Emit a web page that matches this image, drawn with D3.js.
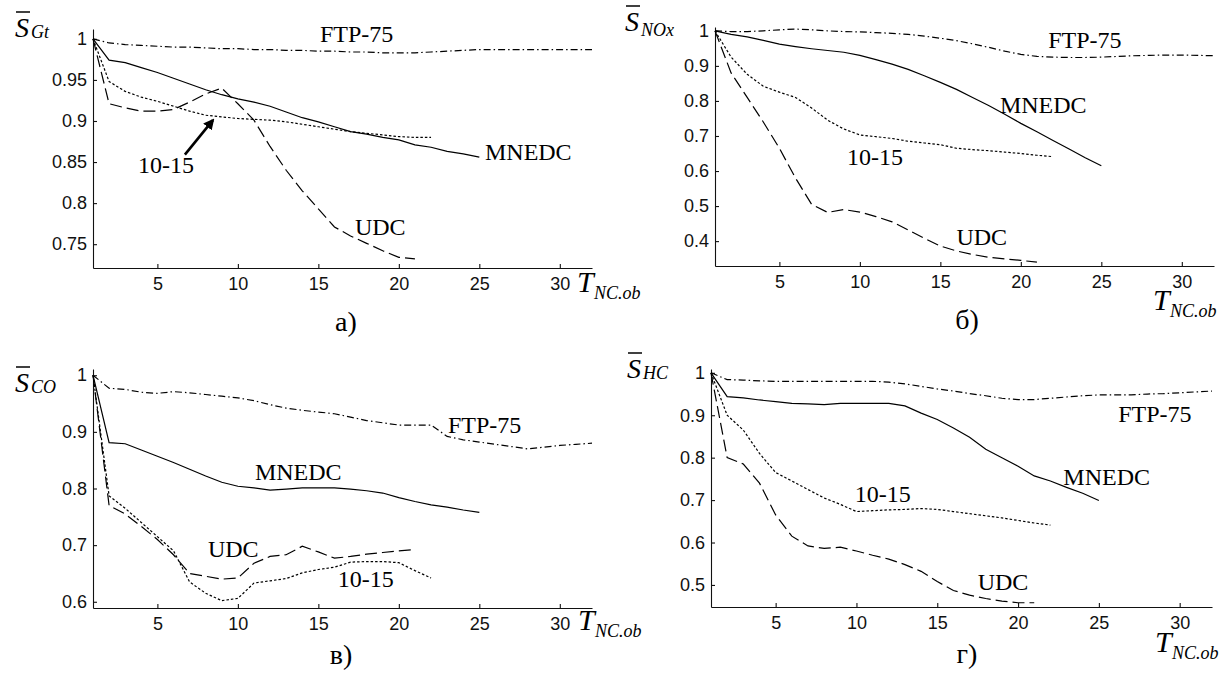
<!DOCTYPE html>
<html>
<head>
<meta charset="utf-8">
<script src="https://cdn.jsdelivr.net/npm/d3@7"></script>
<style>
  body { margin: 0; background: #fff; }
  .serif { font-family: "Liberation Serif", "DejaVu Serif", "Times New Roman", serif; }
  .sans { font-family: "Liberation Sans", Arial, sans-serif; }
</style>
</head>
<body>
<script>
// x axis ticks (number of cycles)
const xTicks = [5, 10, 15, 20, 25, 30];

// a) S_Gt
const ftpGt = [1, 0.995, 0.993, 0.992, 0.991, 0.990, 0.990, 0.989, 0.988, 0.988, 0.987, 0.987, 0.986, 0.986, 0.985, 0.985,
  0.984, 0.984, 0.983, 0.983, 0.983, 0.984, 0.985, 0.986, 0.987, 0.987, 0.987, 0.987, 0.987, 0.987, 0.987, 0.987];
const mnedcGt = [1, 0.974, 0.971, 0.965, 0.959, 0.952, 0.945, 0.938, 0.932, 0.927, 0.923, 0.918, 0.911, 0.904, 0.899,
  0.893, 0.887, 0.884, 0.880, 0.877, 0.871, 0.868, 0.863, 0.860, 0.856];
const tenGt = [1, 0.948, 0.936, 0.929, 0.924, 0.918, 0.912, 0.907, 0.905, 0.903, 0.902, 0.901, 0.899, 0.896, 0.893,
  0.890, 0.887, 0.885, 0.883, 0.881, 0.880, 0.880];
const udcGt = [1, 0.921, 0.916, 0.912, 0.912, 0.914, 0.923, 0.933, 0.940, 0.921, 0.901, 0.869, 0.840, 0.815, 0.793,
  0.771, 0.760, 0.751, 0.742, 0.734, 0.732];
const yTicksGt = [0.75, 0.8, 0.85, 0.9, 0.95, 1];

// б) S_NOx
const ftpNOx = [1, 0.998, 0.998, 1.0, 1.003, 1.005, 1.003, 1.0, 0.998, 0.997, 0.995, 0.993, 0.990, 0.985, 0.979, 0.972,
  0.963, 0.953, 0.942, 0.933, 0.927, 0.925, 0.924, 0.924, 0.925, 0.927, 0.929, 0.930, 0.931, 0.931, 0.930, 0.929];
const mnedcNOx = [1, 0.990, 0.983, 0.973, 0.962, 0.955, 0.949, 0.944, 0.939, 0.930, 0.918, 0.905, 0.890, 0.872, 0.853,
  0.833, 0.810, 0.787, 0.762, 0.736, 0.712, 0.687, 0.663, 0.638, 0.615];
const tenNOx = [1, 0.925, 0.876, 0.842, 0.825, 0.810, 0.780, 0.745, 0.720, 0.703, 0.698, 0.693, 0.685, 0.680, 0.675,
  0.665, 0.661, 0.658, 0.654, 0.650, 0.645, 0.641];
const udcNOx = [1, 0.880, 0.810, 0.740, 0.665, 0.580, 0.505, 0.482, 0.490, 0.483, 0.470, 0.455, 0.432, 0.408, 0.386,
  0.372, 0.362, 0.354, 0.349, 0.345, 0.340];
const yTicksNOx = [0.4, 0.5, 0.6, 0.7, 0.8, 0.9, 1];

// в) S_CO
const ftpCO = [1, 0.977, 0.975, 0.970, 0.968, 0.971, 0.969, 0.966, 0.963, 0.960, 0.955, 0.948, 0.942, 0.938, 0.935,
  0.932, 0.926, 0.920, 0.916, 0.912, 0.912, 0.912, 0.892, 0.886, 0.882, 0.878, 0.874, 0.870, 0.873, 0.876, 0.878, 0.880];
const mnedcCO = [1, 0.881, 0.879, 0.868, 0.857, 0.846, 0.834, 0.822, 0.811, 0.804, 0.801, 0.797, 0.799, 0.801, 0.801,
  0.801, 0.799, 0.796, 0.792, 0.784, 0.777, 0.771, 0.767, 0.762, 0.758];
const udcCO = [1, 0.770, 0.755, 0.733, 0.710, 0.683, 0.650, 0.645, 0.640, 0.642, 0.668, 0.680, 0.683, 0.698, 0.688,
  0.677, 0.680, 0.684, 0.687, 0.690, 0.692];
const tenCO = [1, 0.787, 0.765, 0.740, 0.715, 0.690, 0.635, 0.615, 0.602, 0.606, 0.633, 0.637, 0.641, 0.651, 0.657,
  0.661, 0.670, 0.671, 0.671, 0.669, 0.655, 0.642];
const yTicksCO = [0.6, 0.7, 0.8, 0.9, 1];

// г) S_HC
const ftpHC = [1, 0.984, 0.983, 0.981, 0.980, 0.980, 0.980, 0.980, 0.980, 0.980, 0.980, 0.978, 0.974, 0.968, 0.962,
  0.957, 0.951, 0.946, 0.940, 0.937, 0.937, 0.940, 0.943, 0.946, 0.948, 0.948, 0.948, 0.950, 0.951, 0.953, 0.955, 0.957];
const mnedcHC = [1, 0.944, 0.941, 0.936, 0.932, 0.928, 0.927, 0.925, 0.928, 0.928, 0.928, 0.928, 0.922, 0.905, 0.890,
  0.870, 0.848, 0.820, 0.800, 0.780, 0.757, 0.745, 0.730, 0.716, 0.699];
const tenHC = [1, 0.900, 0.865, 0.810, 0.765, 0.745, 0.725, 0.705, 0.690, 0.673, 0.675, 0.677, 0.678, 0.680, 0.678,
  0.673, 0.668, 0.663, 0.658, 0.652, 0.646, 0.641];
const udcHC = [1, 0.800, 0.785, 0.740, 0.665, 0.615, 0.592, 0.586, 0.589, 0.580, 0.570, 0.561, 0.548, 0.532, 0.508,
  0.487, 0.476, 0.468, 0.462, 0.458, 0.458];
const yTicksHC = [0.5, 0.6, 0.7, 0.8, 0.9, 1];

const W = 1223, H = 674;

const styles = {
  ftp: "7,3,1.5,3",
  mnedc: null,
  ten: "2.5,2",
  udc: "12,5"
};

const panels = [
  { box: [93, 592, 29, 268], yDomain: [0.721, 1.012], yTicks: yTicksGt, sub: "Gt",
    series: { ftp: ftpGt, mnedc: mnedcGt, ten: tenGt, udc: udcGt },
    labels: [["FTP-75", 15.1, 0.996], ["MNEDC", 25.35, 0.852], ["UDC", 17.27, 0.761], ["10-15", 3.8, 0.837]],
    ylab: [15, 37, 1], xlab: [577, 292], tag: ["а)", 346, 331],
    arrow: [6.71, 0.859, 8.45, 0.901] },
  { box: [715, 1214, 27, 266], yDomain: [0.329, 1.011], yTicks: yTicksNOx, sub: "NOx",
    series: { ftp: ftpNOx, mnedc: mnedcNOx, ten: tenNOx, udc: udcNOx },
    labels: [["FTP-75", 21.7, 0.951], ["MNEDC", 18.7, 0.766], ["10-15", 9.2, 0.617], ["UDC", 16.0, 0.389]],
    ylab: [625, 31, 5], xlab: [1153, 310], tag: ["б)", 967, 329] },
  { box: [93, 592, 369, 608], yDomain: [0.589, 1.011], yTicks: yTicksCO, sub: "CO",
    series: { ftp: ftpCO, mnedc: mnedcCO, ten: tenCO, udc: udcCO },
    labels: [["MNEDC", 11.06, 0.815], ["UDC", 8.14, 0.679], ["10-15", 16.2, 0.626], ["FTP-75", 23.05, 0.898]],
    ylab: [15, 392, 1], xlab: [578, 630], tag: ["в)", 341, 664] },
  { box: [711, 1212, 369, 607], yDomain: [0.448, 1.009], yTicks: yTicksHC, sub: "HC",
    series: { ftp: ftpHC, mnedc: mnedcHC, ten: tenHC, udc: udcHC },
    labels: [["FTP-75", 26.2, 0.884], ["MNEDC", 22.8, 0.736], ["10-15", 9.9, 0.696], ["UDC", 17.5, 0.488]],
    ylab: [627, 378, 1], xlab: [1155, 652], tag: ["г)", 967, 663] }
];

const svg = d3.select("body").append("svg")
  .attr("width", W)
  .attr("height", H)
  .style("display", "block");

svg.append("defs").append("marker")
  .attr("id", "head")
  .attr("viewBox", "0 0 10 10")
  .attr("refX", 8).attr("refY", 5)
  .attr("markerWidth", 4.2).attr("markerHeight", 4.2)
  .attr("markerUnits", "strokeWidth")
  .attr("orient", "auto")
  .append("path").attr("d", "M0,0L10,5L0,10z").attr("fill", "#000");

panels.forEach(p => {
  const [x0, x1, y0, y1] = p.box;
  const x = d3.scaleLinear().domain([1, 32]).range([x0, x1]);
  const y = d3.scaleLinear().domain(p.yDomain).range([y1, y0]);
  const g = svg.append("g");

  // axes, MATLAB style: inward ticks, no box
  const xAxis = g.append("g")
    .attr("transform", `translate(0,${y1})`)
    .call(d3.axisBottom(x).tickValues(xTicks).tickSizeInner(-4).tickSizeOuter(0).tickPadding(9));
  const yAxis = g.append("g")
    .attr("transform", `translate(${x0},0)`)
    .call(d3.axisLeft(y).tickValues(p.yTicks).tickSizeInner(-4).tickSizeOuter(0).tickPadding(6)
      .tickFormat(d => String(d)));
  [xAxis, yAxis].forEach(a => {
    a.attr("font-family", null).attr("font-size", null);
    a.selectAll("path, line").attr("stroke", "#111").attr("stroke-width", 1.1);
    a.selectAll("text").attr("fill", "#111").attr("class", "sans").style("font-size", "18px");
  });

  // curves
  const line = d3.line().x((d, i) => x(i + 1)).y(d => y(d));
  Object.entries(p.series).forEach(([k, vals]) => {
    g.append("path")
      .datum(vals)
      .attr("d", line)
      .attr("fill", "none")
      .attr("stroke", "#000")
      .attr("stroke-width", 1.2)
      .attr("stroke-dasharray", styles[k]);
  });

  // curve labels
  p.labels.forEach(([t, lx, ly]) => {
    g.append("text")
      .attr("class", "serif")
      .attr("x", x(lx)).attr("y", y(ly))
      .style("font-size", "24px")
      .text(t);
  });

  if (p.arrow) {
    const [ax0, ay0, ax1, ay1] = p.arrow;
    g.append("line")
      .attr("x1", x(ax0)).attr("y1", y(ay0))
      .attr("x2", x(ax1)).attr("y2", y(ay1))
      .attr("stroke", "#000").attr("stroke-width", 2.6)
      .attr("marker-end", "url(#head)");
  }

  // y label: S with overline and subscript
  const [sx, sy, subDy] = p.ylab;
  const s = g.append("text")
    .attr("class", "serif")
    .attr("x", sx).attr("y", sy)
    .style("font-style", "italic").style("font-size", "28px")
    .text("S");
  const sb = s.node().getBBox();
  g.append("line")
    .attr("x1", sb.x + 1).attr("x2", sb.x + sb.width + 1)
    .attr("y1", sy - 25).attr("y2", sy - 25)
    .attr("stroke", "#000").attr("stroke-width", 1.5);
  g.append("text")
    .attr("class", "serif")
    .attr("x", sb.x + sb.width + 2).attr("y", sy + subDy)
    .style("font-style", "italic").style("font-size", "18px")
    .text(p.sub);

  // x label: T_NC.ob
  const [tx, ty] = p.xlab;
  const t = g.append("text")
    .attr("class", "serif")
    .attr("x", tx).attr("y", ty)
    .style("font-style", "italic").style("font-size", "30px")
    .text("T");
  const tb = t.node().getBBox();
  g.append("text")
    .attr("class", "serif")
    .attr("x", tb.x + tb.width - 2).attr("y", ty + 7)
    .style("font-style", "italic").style("font-size", "18px")
    .text("NC.ob");

  // panel tag
  g.append("text")
    .attr("class", "serif")
    .attr("x", p.tag[1]).attr("y", p.tag[2])
    .attr("text-anchor", "middle")
    .style("font-size", "28px")
    .text(p.tag[0]);
});
</script>
</body>
</html>
